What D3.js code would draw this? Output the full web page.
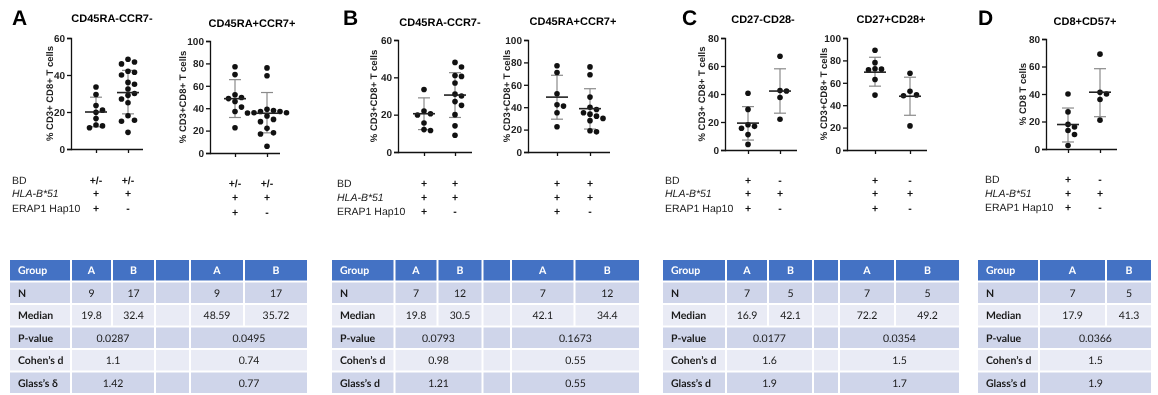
<!DOCTYPE html>
<html>
<head>
<meta charset="utf-8">
<script src="https://cdnjs.cloudflare.com/ajax/libs/d3/7.8.5/d3.min.js"></script>
<style>
  body { margin: 0; background: #fff; }
  svg { display: block; font-family: "Liberation Sans", Arial, sans-serif;
        -webkit-font-smoothing: antialiased; will-change: transform; text-rendering: geometricPrecision; }
</style>
</head>
<body>
<svg id="fig" width="1158" height="395"></svg>
<script>
// ---- chart values ----
var panelLetters = ["A", "B", "C", "D"];
var plotTitles = ["CD45RA-CCR7-", "CD45RA+CCR7+", "CD45RA-CCR7-", "CD45RA+CCR7+",
                  "CD27-CD28-", "CD27+CD28+", "CD8+CD57+"];
var yTitles = ["% CD3+ CD8+ T cells", "% CD3+CD8+ T cells", "% CD3+CD8+ T cells", "% CD3+CD8+ T cells",
               "% CD3+ CD8+ T cells", "% CD3+CD8+ T cells", "% CD8 T cells"];
var yMax = [60, 100, 60, 100, 80, 100, 80];

var groupA = [
  [33.5, 29.5, 23.5, 21, 19.8, 16.5, 13, 12.5, 11.5],
  [77, 70, 52, 49.5, 48.59, 46, 41, 37, 22.5],
  [33.5, 22, 20.5, 19.8, 15.5, 12, 11.5],
  [77, 71, 52, 42.1, 41, 35, 22.5],
  [40.5, 29, 18, 16.9, 15.5, 11, 4],
  [89, 78, 72.5, 72.2, 71.5, 63, 49],
  [40, 27, 17.9, 16, 13.5, 10.5, 2.5]
];
var groupB = [
  [48.5, 47, 46, 42, 41.5, 40, 36, 35, 32.4, 30, 29, 27, 25, 18, 15.5, 15, 9],
  [76, 69, 39, 38, 37, 37, 36, 36, 35.72, 35, 33, 30, 28, 22, 18, 17, 6],
  [48, 45.5, 41, 40.5, 37, 31, 30, 27, 25, 20, 14, 9],
  [76, 69, 49, 40, 38, 35, 33.8, 32, 30, 28, 19, 18],
  [67, 42.5, 42.1, 37.5, 22],
  [68.5, 52.5, 49.2, 48.5, 21.5],
  [69, 41.3, 40, 36, 21]
];
// centre line and error bar ends as drawn
var centerA = [20, 48.5, 20.5, 49, 19.2, 69.5, 17.8];
var upperA  = [28, 65.5, 29, 68.5, 31, 82.8, 29.8];
var lowerA  = [12, 31.7, 12, 29.3, 7.1, 57, 5.1];
var centerB = [30.5, 35.5, 30.5, 38.7, 42.1, 48, 41.3];
var upperB  = [42.5, 54, 42.5, 56.5, 58, 65, 58.4];
var lowerB  = [19, 18, 18.5, 20.5, 26.3, 31, 23.5];

var rowLabels = ["BD", "HLA-B*51", "ERAP1 Hap10"];
var bdSigns   = [["+/-", "+/-"], ["+/-", "+/-"], ["+", "+"], ["+", "+"], ["+", "-"], ["+", "-"], ["+", "-"]];
var hlaSigns  = [["+", "+"], ["+", "+"], ["+", "+"], ["+", "+"], ["+", "+"], ["+", "+"], ["+", "+"]];
var erapSigns = [["+", "-"], ["+", "-"], ["+", "-"], ["+", "-"], ["+", "-"], ["+", "-"], ["+", "-"]];

var tableRowNames = ["N", "Median", "P-value", "Cohen\u2019s d"];
var glassNames = ["Glass\u2019s \u03b4", "Glass\u2019s d", "Glass\u2019s d", "Glass\u2019s d"];
var tableN      = [[9, 17, 9, 17], [7, 12, 7, 12], [7, 5, 7, 5], [7, 5]];
var tableMedian = [["19.8", "32.4", "48.59", "35.72"], ["19.8", "30.5", "42.1", "34.4"],
                   ["16.9", "42.1", "72.2", "49.2"], ["17.9", "41.3"]];
var tablePValue = [["0.0287", "0.0495"], ["0.0793", "0.1673"], ["0.0177", "0.0354"], ["0.0366"]];
var tableCohen  = [["1.1", "0.74"], ["0.98", "0.55"], ["1.6", "1.5"], ["1.5"]];
var tableGlass  = [["1.42", "0.77"], ["1.21", "0.55"], ["1.9", "1.7"], ["1.9"]];

// ---- layout ----
var letterPos = [[12, 25], [343, 25], [682, 25], [978, 25]];
var plots = [
  {ax: 71,   top: 38, bot: 149, xa: 96,  xb: 128,  end: 143,  tx: 112,  ty: 22, lx: 50,   rows: [180, 193.5, 208]},
  {ax: 210,  top: 41, bot: 153, xa: 235, xb: 267,  end: 280,  tx: 252,  ty: 27, lx: 183,  rows: [183, 197.5, 212]},
  {ax: 398,  top: 40, bot: 152, xa: 424, xb: 455,  end: 472,  tx: 440,  ty: 26, lx: 374,  rows: [183, 197, 211]},
  {ax: 528,  top: 40, bot: 152, xa: 557, xb: 590,  end: 610,  tx: 573,  ty: 25, lx: 507,  rows: [183, 197, 211]},
  {ax: 725,  top: 38, bot: 150, xa: 748, xb: 780,  end: 797,  tx: 763,  ty: 23, lx: 702,  rows: [180, 193.5, 208]},
  {ax: 847,  top: 38, bot: 150, xa: 875, xb: 910,  end: 927,  tx: 891,  ty: 23, lx: 824,  rows: [180, 193.5, 208]},
  {ax: 1046, top: 39, bot: 149, xa: 1068, xb: 1100, end: 1117, tx: 1085, ty: 25, lx: 1023, rows: [179, 193, 207]}
];
var labelBlocks = [{x: 12, rows: [180, 193.5, 208]}, {x: 337, rows: [183, 197, 211]},
                   {x: 665, rows: [180, 193.5, 208]}, {x: 985, rows: [179, 193, 207]}];
var tableEdges = [
  [9, 71, 112, 155, 190, 244, 308],
  [331, 394.5, 437.5, 482.5, 511, 574.5, 640],
  [662, 726, 768, 813, 839, 895, 960],
  [977, 1039, 1106, 1152]
];
var rowTop = 260, rowPitch = 22.5, rowH = 20.5;
var rowFills = ["#4472c4", "#cfd5ea", "#e9ebf5", "#cfd5ea", "#e9ebf5", "#cfd5ea"];

var svg = d3.select("#fig");
svg.append("rect").attr("width", 1158).attr("height", 395).attr("fill", "#fff");

svg.selectAll(".panel-letter")
  .data(panelLetters)
  .enter().append("text")
  .attr("class", "panel-letter")
  .attr("x", function(d, i) { return letterPos[i][0]; })
  .attr("y", function(d, i) { return letterPos[i][1]; })
  .style("font-size", "21px").style("font-weight", "bold")
  .text(function(d) { return d; });

// beeswarm-ish spread for dots that sit at the same height
function swarm(vals, y, cx) {
  var placed = [];
  var sorted = vals.slice().sort(function(a, b) { return b - a; });
  sorted.forEach(function(v) {
    var py = y(v);
    var offs = [0, 6.5, -6.5, 13, -13, 19.5, -19.5];
    for (var k = 0; k < offs.length; k++) {
      var px = cx + offs[k];
      var clash = placed.some(function(p) {
        return Math.hypot(p.x - px, p.y - py) < 5.8;
      });
      if (!clash) { placed.push({x: px, y: py}); break; }
    }
  });
  return placed;
}

function drawPlot(i) {
  var p = plots[i];
  var g = svg.append("g").attr("class", "plot");
  var y = d3.scaleLinear().domain([0, yMax[i]]).range([p.bot, p.top]);
  var x = d3.scalePoint().domain(["A", "B"]).range([p.xa, p.xb]);

  var yAxis = g.append("g")
    .attr("transform", "translate(" + p.ax + ",0)")
    .call(d3.axisLeft(y).tickValues(d3.range(0, yMax[i] + 1, 20)).tickSizeOuter(0).tickSize(4).tickPadding(2));
  yAxis.selectAll("text").style("font-size", "10px").style("font-weight", "bold").attr("fill", "#222");

  var xAxis = g.append("g")
    .attr("transform", "translate(0," + p.bot + ")")
    .call(d3.axisBottom(x).tickSize(4).tickFormat(""));
  xAxis.select(".domain").attr("d", "M" + p.ax + ",0.5H" + p.end);
  g.selectAll(".domain, .tick line").attr("stroke", "#111").attr("stroke-width", 1.3);

  g.append("text")
    .attr("x", p.tx).attr("y", p.ty)
    .attr("text-anchor", "middle")
    .style("font-size", "11px").style("font-weight", "bold")
    .text(plotTitles[i]);

  g.append("text")
    .attr("transform", "translate(" + p.lx + "," + ((p.top + p.bot) / 2) + ") rotate(-90)")
    .attr("text-anchor", "middle").attr("dy", "0.35em")
    .style("font-size", "9.5px").style("font-weight", "bold").attr("fill", "#222")
    .text(yTitles[i]);

  var groups = [
    {key: "A", vals: groupA[i], c: centerA[i], hi: upperA[i], lo: lowerA[i]},
    {key: "B", vals: groupB[i], c: centerB[i], hi: upperB[i], lo: lowerB[i]}
  ];
  groups.forEach(function(gr) {
    var cx = x(gr.key);
    g.append("line").attr("x1", cx).attr("x2", cx).attr("y1", y(gr.hi)).attr("y2", y(gr.lo))
      .attr("stroke", "#8a8a8a").attr("stroke-width", 1.2);
    [gr.hi, gr.lo].forEach(function(v) {
      g.append("line").attr("x1", cx - 6).attr("x2", cx + 6).attr("y1", y(v)).attr("y2", y(v))
        .attr("stroke", "#8a8a8a").attr("stroke-width", 1.2);
    });
    g.selectAll(null).data(swarm(gr.vals, y, cx)).enter().append("circle")
      .attr("cx", function(d) { return d.x; })
      .attr("cy", function(d) { return d.y; })
      .attr("r", 2.8).attr("fill", "#111");
    g.append("line").attr("x1", cx - 11).attr("x2", cx + 11).attr("y1", y(gr.c)).attr("y2", y(gr.c))
      .attr("stroke", "#222").attr("stroke-width", 1.6);
  });

  var signs = [bdSigns[i], hlaSigns[i], erapSigns[i]];
  signs.forEach(function(pair, r) {
    g.selectAll(null).data(pair).enter().append("text")
      .attr("x", function(d, j) { return j === 0 ? p.xa : p.xb; })
      .attr("y", p.rows[r])
      .attr("text-anchor", "middle").attr("dy", "0.35em")
      .style("font-size", "10.5px").style("font-weight", "bold").attr("fill", "#111")
      .text(function(d) { return d; });
  });
}

for (var i = 0; i < plots.length; i++) drawPlot(i);

labelBlocks.forEach(function(b) {
  svg.selectAll(null).data(rowLabels).enter().append("text")
    .attr("x", b.x).attr("y", function(d, r) { return b.rows[r]; })
    .attr("dy", "0.35em")
    .style("font-size", "10.5px").attr("fill", "#222")
    .style("font-style", function(d, r) { return r === 1 ? "italic" : "normal"; })
    .text(function(d) { return d; });
});

// ---- tables ----
function drawTable(t) {
  var e = tableEdges[t];
  var g = svg.append("g").attr("class", "table").style("font-family", "Lato, 'Open Sans', sans-serif");
  var nCols = e.length - 1;
  var wide = nCols === 6;
  function cell(c0, c1, r, txt, opts) {
    var x0 = e[c0] + 1, x1 = e[c1 + 1] - 1;
    var y0 = rowTop + r * rowPitch;
    g.append("rect").attr("x", x0).attr("y", y0).attr("width", x1 - x0).attr("height", rowH)
      .attr("fill", rowFills[r]);
    if (txt === "") return;
    g.append("text")
      .attr("x", opts.left ? x0 + 8 : (x0 + x1) / 2)
      .attr("y", y0 + rowH / 2).attr("dy", "0.36em")
      .attr("text-anchor", opts.left ? "start" : "middle")
      .attr("fill", r === 0 ? "#fff" : "#1a1a1a")
      .style("font-size", "10.5px")
      .style("font-weight", opts.bold ? "bold" : "normal")
      .text(txt);
  }
  var head = wide ? ["A", "B", "", "A", "B"] : ["A", "B"];
  cell(0, 0, 0, "Group", {left: true, bold: true});
  head.forEach(function(h, c) { cell(c + 1, c + 1, 0, h, {bold: true}); });

  var names = tableRowNames.concat([glassNames[t]]);
  names.forEach(function(nm, k) { cell(0, 0, k + 1, nm, {left: true, bold: true}); });

  [tableN[t], tableMedian[t]].forEach(function(vals, k) {
    vals.forEach(function(v, j) {
      var c = j < 2 ? j + 1 : j + 2;
      cell(c, c, k + 1, String(v), {});
    });
    if (wide) cell(3, 3, k + 1, "", {});
  });
  [tablePValue[t], tableCohen[t], tableGlass[t]].forEach(function(vals, k) {
    vals.forEach(function(v, j) {
      var c = j === 0 ? 1 : 4;
      cell(c, c + 1, k + 3, v, {});
    });
    if (wide) cell(3, 3, k + 3, "", {});
  });
}
for (var t = 0; t < tableEdges.length; t++) drawTable(t);
</script>
</body>
</html>
